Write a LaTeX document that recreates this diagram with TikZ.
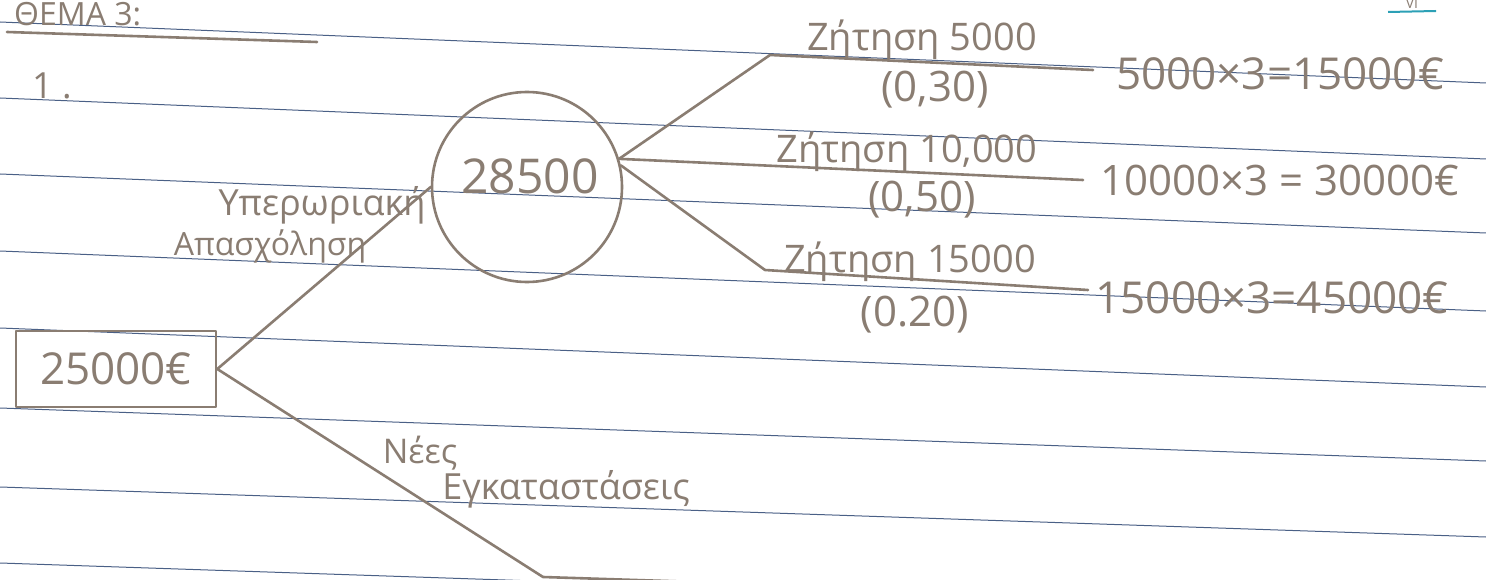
\documentclass[tikz,border=0pt]{standalone}
\usepackage{fontspec}
\setmainfont{Open Sans}
\newcommand{\hsz}[1]{\fontsize{#1}{#1}\selectfont}
\definecolor{pencil}{HTML}{8A7D72}
\definecolor{ruling}{HTML}{4A6086}
\tikzset{
  hand/.style={text=pencil, inner sep=0pt, font=\hsz{40}},
  pen/.style={draw=pencil, line width=2.6pt, line cap=round, line join=round},
  rule/.style={draw=ruling, line width=1pt},
}
\begin{document}
\begin{tikzpicture}[x=1pt,y=-1pt]
\useasboundingbox (0,0) rectangle (1486,580);
\clip (0,0) rectangle (1486,580);
\fill[white] (0,0) rectangle (1486,580);
% ruled paper lines
\foreach \l/\r in {22/83, 98/159, 174/233, 251/311, 328/387, 408/461, 487/537, 563/613}
  \draw[rule] (0,\l) -- (1486,\r);
% header
\node[hand, font=\hsz{32}, anchor=base west] (title) at (14,26) {ΘΕΜΑ 3:};
\coordinate (ulA) at (7,32);
\coordinate (ulB) at (317,42);
\draw[pen] (ulA) -- (ulB);
\node[hand, font=\hsz{36}] (one) at (52,86) {1 .};
\node[hand, font=\hsz{14}, anchor=base] (page) at (1412,9) {VI};
\coordinate (pgA) at (1388,12);
\coordinate (pgB) at (1436,11);
\draw[draw=ruling!60!cyan, line width=2pt] (pgA) -- (pgB);
% root box
\node[pen, hand, font=\hsz{44}, minimum width=200pt, minimum height=76pt] (root) at (116,369) {25000€};
% chance node
\node[pen, hand, circle, font=\hsz{48}, minimum size=190pt] (chance) at (527,187) {};
\node[hand, font=\hsz{48}] (ev) at (530,176) {28500};
% branches from root
\draw[pen] (root.east) -- (chance.west);
\coordinate (ni) at (543,577);
\coordinate (nie) at (760,584);
\draw[pen] (root.east) -- (ni) -- (nie);
\node[hand, font=\hsz{36}] (l1a) at (322,205) {Υπερωριακή};
\node[hand, font=\hsz{32}] (l1b) at (270,246) {Απασχόληση};
\node[hand, font=\hsz{34}] (l2a) at (420,453) {Νέες};
\node[hand, font=\hsz{36}] (l2b) at (566,489) {Εγκαταστάσεις};
% outcome branches
\coordinate (t1) at (770,55);
\coordinate (t2) at (1093,70);
\coordinate (m2) at (1083,180);
\coordinate (b1) at (765,270);
\coordinate (b2) at (1088,290);
\draw[pen] (chance.17) -- (t1) -- (t2);
\draw[pen] (chance.17) -- (m2);
\draw[pen] (chance.13) -- (b1) -- (b2);
% outcome labels
\node[hand, font=\hsz{38}] (d1) at (922,40) {Ζήτηση 5000};
\node[hand, font=\hsz{42}] (p1) at (935,90) {(0,30)};
\node[hand, font=\hsz{44}] (v1) at (1280,74) {5000×3=15000€};
\node[hand, font=\hsz{38}] (d2) at (907,152) {Ζήτηση 10,000};
\node[hand, font=\hsz{42}] (p2) at (922,200) {(0,50)};
\node[hand, font=\hsz{42}] (v2) at (1280,180) {10000×3 = 30000€};
\node[hand, font=\hsz{38}] (d3) at (910,262) {Ζήτηση 15000};
\node[hand, font=\hsz{42}] (p3) at (915,315) {(0.20)};
\node[hand, font=\hsz{44}] (v3) at (1272,298) {15000×3=45000€};
\end{tikzpicture}
\end{document}
